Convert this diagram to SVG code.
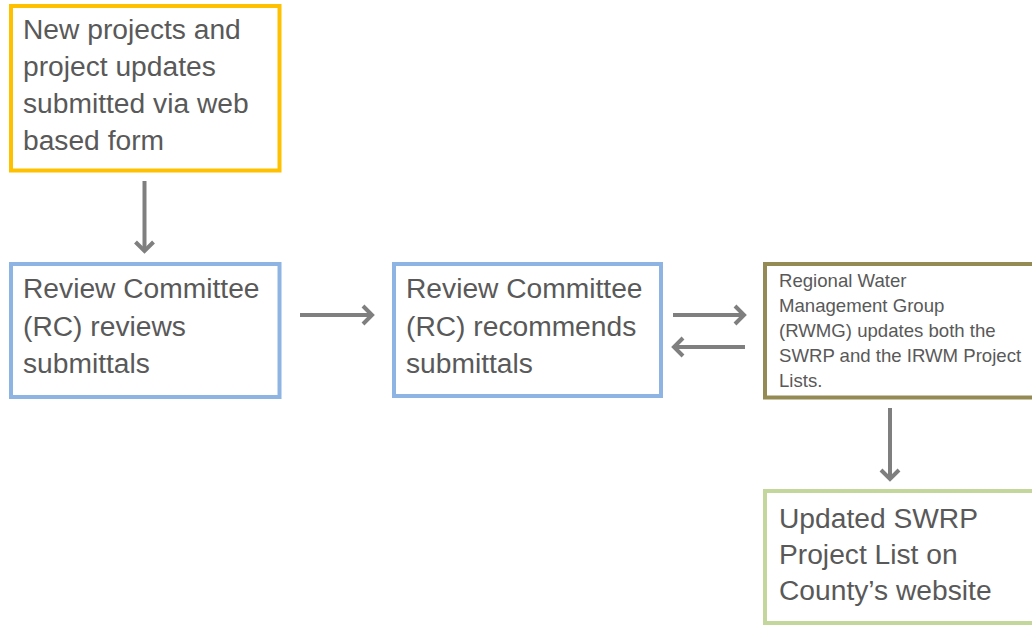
<svg xmlns="http://www.w3.org/2000/svg" width="1032" height="627" viewBox="0 0 1032 627">
<defs>
<style>
.box{fill:#FFFFFF;stroke-width:4}
.t{font-family:"Liberation Sans",Arial,sans-serif;font-size:28.2px;fill:#595959}
.s{font-family:"Liberation Sans",Arial,sans-serif;font-size:18.6px;fill:#595959}
.c{stroke:#7F7F7F;stroke-width:4;fill:none}
</style>
<marker id="ah" markerUnits="userSpaceOnUse" markerWidth="24" markerHeight="24" viewBox="0 0 24 24" refX="20" refY="12" orient="auto">
<path d="M11,3 L20,12 L11,21" fill="none" stroke="#7F7F7F" stroke-width="4"/>
</marker>
</defs>
<rect width="1032" height="627" fill="#FFFFFF"/>
<g id="node-submit">
<rect class="box" x="11" y="6" width="268.5" height="164.5" stroke="#FFC000"/>
<text class="t" x="23" y="39">New projects and</text>
<text class="t" x="23" y="76">project updates</text>
<text class="t" x="23" y="113">submitted via web</text>
<text class="t" x="23" y="150">based form</text>
</g>
<g id="node-review">
<rect class="box" x="11" y="264" width="268.5" height="133" stroke="#8EB4E3"/>
<text class="t" x="23" y="298">Review Committee</text>
<text class="t" x="23" y="336">(RC) reviews</text>
<text class="t" x="23" y="373">submittals</text>
</g>
<g id="node-recommend">
<rect class="box" x="394" y="264" width="267" height="132" stroke="#8EB4E3"/>
<text class="t" x="406" y="298">Review Committee</text>
<text class="t" x="406" y="336">(RC) recommends</text>
<text class="t" x="406" y="373">submittals</text>
</g>
<g id="node-rwmg">
<rect class="box" x="765" y="264" width="290" height="133.5" stroke="#948A54"/>
<text class="s" x="779" y="287">Regional Water</text>
<text class="s" x="779" y="312">Management Group</text>
<text class="s" x="779" y="337">(RWMG) updates both the</text>
<text class="s" x="779" y="362">SWRP and the IRWM Project</text>
<text class="s" x="779" y="387">Lists.</text>
</g>
<g id="node-updated">
<rect class="box" x="765" y="491" width="290" height="132" stroke="#C3D69B"/>
<text class="t" x="779" y="528">Updated SWRP</text>
<text class="t" x="779" y="564">Project List on</text>
<text class="t" x="779" y="600">County’s website</text>
</g>
<g id="connectors">
<path class="c" d="M144.5,181 L144.5,251" marker-end="url(#ah)"/>
<path class="c" d="M300,315 L372,315" marker-end="url(#ah)"/>
<path class="c" d="M673,315 L744,315" marker-end="url(#ah)"/>
<path class="c" d="M745,347 L674,347" marker-end="url(#ah)"/>
<path class="c" d="M890,408 L890,479" marker-end="url(#ah)"/>
</g>
</svg>
